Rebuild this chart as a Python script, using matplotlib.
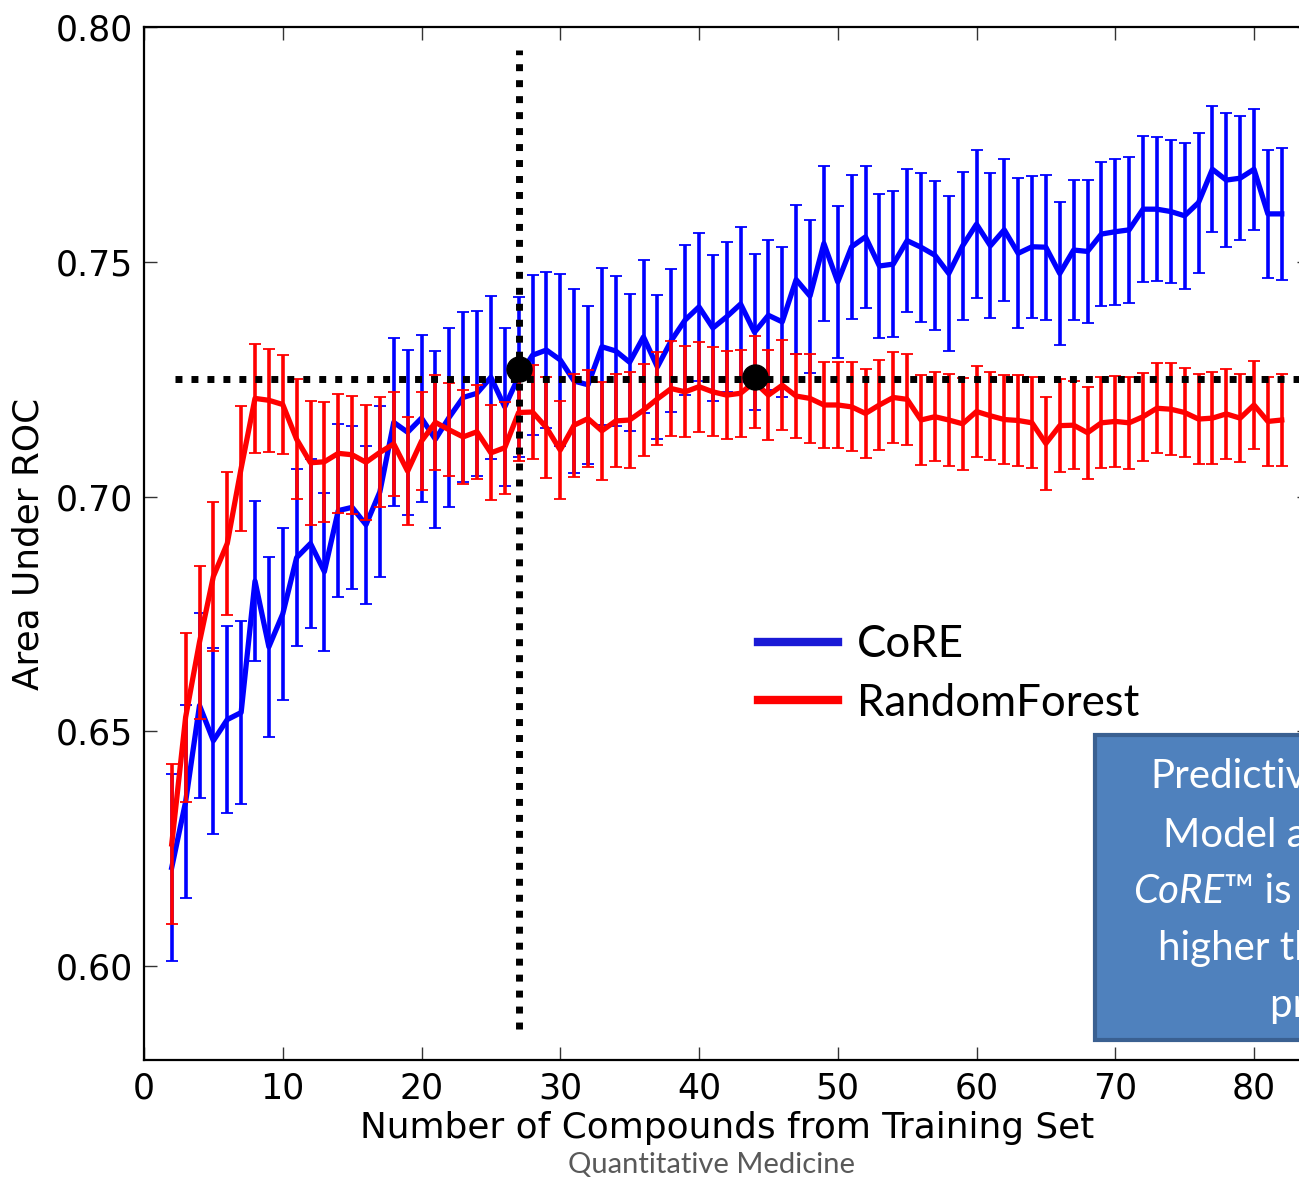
import matplotlib
matplotlib.use("Agg")
import matplotlib.pyplot as plt
from matplotlib.lines import Line2D
from matplotlib.patches import Rectangle

W, H = 1299, 1179

n_compounds = list(range(2, 83))

core_mean = [0.621, 0.635, 0.6555, 0.648, 0.6525, 0.654, 0.682, 0.668, 0.675, 0.687,
             0.690, 0.684, 0.697, 0.6977, 0.694, 0.701, 0.7158, 0.7137, 0.7167, 0.7122,
             0.7169, 0.7211, 0.722, 0.7254, 0.7191, 0.7255, 0.7301, 0.7312, 0.7291, 0.7246,
             0.7238, 0.7319, 0.7310, 0.7286, 0.7340, 0.7276, 0.7332, 0.7376, 0.7404, 0.7359,
             0.7383, 0.7410, 0.7350, 0.7386, 0.7372, 0.7462, 0.7427, 0.7539, 0.7457, 0.7532,
             0.7553, 0.7491, 0.7495, 0.7545, 0.7531, 0.7514, 0.7475, 0.7534, 0.7580, 0.7534,
             0.7568, 0.7518, 0.7532, 0.7531, 0.7475, 0.7525, 0.7522, 0.7559, 0.7564, 0.7568,
             0.7612, 0.7612, 0.7607, 0.7598, 0.7626, 0.7697, 0.7674, 0.7678, 0.7697, 0.7602,
             0.7602]
core_err = [0.020, 0.0206, 0.0197, 0.0198, 0.0199, 0.0195, 0.0171, 0.0192, 0.0183, 0.0189,
            0.018, 0.0168, 0.0184, 0.0174, 0.0168, 0.0182, 0.0179, 0.0176, 0.0178, 0.0188,
            0.0191, 0.0181, 0.0176, 0.0174, 0.0169, 0.017, 0.017, 0.0167, 0.0183, 0.0196,
            0.0168, 0.0167, 0.016, 0.0146, 0.0163, 0.0153, 0.0152, 0.016, 0.0158, 0.0155,
            0.016, 0.0165, 0.0166, 0.016, 0.016, 0.0159, 0.0163, 0.0165, 0.0162, 0.0153,
            0.0151, 0.0154, 0.0156, 0.0152, 0.0159, 0.0159, 0.0166, 0.0158, 0.0158, 0.0154,
            0.0151, 0.016, 0.0151, 0.0154, 0.0153, 0.0149, 0.0153, 0.0154, 0.0155, 0.0155,
            0.0156, 0.0153, 0.0152, 0.0155, 0.0149, 0.0134, 0.0142, 0.0132, 0.0129, 0.0137,
            0.014]

rf_mean = [0.626, 0.653, 0.669, 0.683, 0.690, 0.706, 0.7209, 0.7205, 0.7196, 0.7122,
           0.7072, 0.7074, 0.7092, 0.7089, 0.7073, 0.7094, 0.7112, 0.7054, 0.7118, 0.7158,
           0.7142, 0.7127, 0.7138, 0.7093, 0.7104, 0.7179, 0.7180, 0.7147, 0.7099, 0.7152,
           0.7166, 0.7140, 0.7161, 0.7163, 0.7184, 0.7208, 0.7230, 0.7223, 0.7234, 0.7223,
           0.7216, 0.7220, 0.7244, 0.7216, 0.7237, 0.7214, 0.7209, 0.7195, 0.7195, 0.7191,
           0.7177, 0.7195, 0.7211, 0.7207, 0.7163, 0.7170, 0.7163, 0.7155, 0.7181, 0.7172,
           0.7164, 0.7162, 0.7157, 0.7113, 0.7151, 0.7152, 0.7136, 0.7157, 0.7160, 0.7157,
           0.7170, 0.7188, 0.7186, 0.7179, 0.7165, 0.7167, 0.7176, 0.7167, 0.7195, 0.7160,
           0.7163]
rf_err = [0.017, 0.018, 0.0163, 0.0158, 0.0152, 0.0133, 0.0116, 0.011, 0.0105, 0.0128,
          0.0132, 0.0128, 0.0127, 0.0126, 0.0123, 0.0117, 0.0111, 0.0115, 0.0105, 0.0101,
          0.0099, 0.010, 0.010, 0.0101, 0.0098, 0.0103, 0.010, 0.0107, 0.0105, 0.011,
          0.0103, 0.0105, 0.0099, 0.0102, 0.0098, 0.0099, 0.0102, 0.0097, 0.0096, 0.0095,
          0.0093, 0.0093, 0.0097, 0.0096, 0.0096, 0.009, 0.0094, 0.0092, 0.0092, 0.0095,
          0.0094, 0.0096, 0.0097, 0.0097, 0.0096, 0.0095, 0.0097, 0.0098, 0.0097, 0.0094,
          0.0094, 0.0096, 0.0097, 0.010, 0.0099, 0.0094, 0.0098, 0.0097, 0.0097, 0.0098,
          0.0094, 0.0096, 0.0098, 0.0095, 0.0095, 0.0098, 0.0096, 0.0093, 0.0094, 0.0094,
          0.0097]

ref_x = 27
ref_y = 0.725
marker_x = [27, 44]
marker_y = [0.7272, 0.7254]

x_ticks = [0, 10, 20, 30, 40, 50, 60, 70, 80]
y_ticks = [0.60, 0.65, 0.70, 0.75, 0.80]
y_ticklabels = ["0.60", "0.65", "0.70", "0.75", "0.80"]

box_lines = ["Predictive", "Model accuracy", "CoRE", "higher than", "prior art"]

BLUE = "#0000ff"
RED = "#ff0000"

fig = plt.figure(figsize=(W / 100, H / 100), dpi=100)
ax = fig.add_axes([144 / W, (H - 1060) / H, 1165.5 / W, 1033 / H])

ax.errorbar(n_compounds, core_mean, yerr=core_err, color=BLUE, lw=3.8,
            elinewidth=2.6, capsize=4.5, capthick=1.3, zorder=2)
ax.errorbar(n_compounds, rf_mean, yerr=rf_err, color=RED, lw=3.8,
            elinewidth=2.6, capsize=4.5, capthick=1.3, zorder=3)

ax.plot([ref_x, ref_x], [0.5865, 0.795], color="black", lw=5, dashes=(1, 1.3),
        dash_capstyle="butt", zorder=5)
ax.plot([2.2, 84], [ref_y, ref_y], color="black", lw=5, dashes=(1, 1.3),
        dash_capstyle="butt", zorder=5)
ax.plot(marker_x, marker_y, "o", color="black", ms=18, zorder=6)

ax.set_xlim(0, 84)
ax.set_ylim(0.58, 0.80)
ax.set_xticks(x_ticks)
ax.set_yticks(y_ticks)
ax.set_yticklabels(y_ticklabels)
ax.tick_params(direction="in", length=9.5, width=1, top=True, right=True,
               labelsize=25, pad=8, colors="#333333", labelcolor="black")
for s in ax.spines.values():
    s.set_linewidth(1.6)

ax.set_xlabel("Number of Compounds from Training Set", fontsize=25.8)
ax.set_ylabel("Area Under ROC", fontsize=25.8)
ax.xaxis.set_label_coords(0.5, -(1111 - 1060) / 1033)
ax.yaxis.set_label_coords((46 - 144) / 1165.5, 0.5)

handles = [Line2D([], [], color="#1a1ad6", lw=6),
           Line2D([], [], color=RED, lw=6)]
fig.legend(handles, ["CoRE", "RandomForest"], loc="upper left",
           bbox_to_anchor=(758 / W, (H - 624) / H), frameon=False,
           prop={"family": "Lato", "size": 31.5}, borderpad=0, borderaxespad=0,
           handlelength=1.83, handletextpad=0.43, labelspacing=0.40)

fig.add_artist(Rectangle((1095 / W, (H - 1040) / H), 400 / W, 305 / H,
                         transform=fig.transFigure, facecolor="#4F81BD",
                         edgecolor="#3A6091", lw=3, zorder=10))

box_x = [1150, 1163, 1133, 1158, 1270]
box_base = [788, 847, 903, 960, 1017]
for i, (txt, bx, by) in enumerate(zip(box_lines, box_x, box_base)):
    t = fig.text(bx / W, (H - by) / H, txt, color="white", family="Lato",
                 fontsize=29, va="baseline", ha="left", zorder=11,
                 style="italic" if i == 2 else "normal")
    if i == 2:
        fig.canvas.draw()
        bb = t.get_window_extent()
        fig.text(bb.x1 / W, (H - by) / H, "\u2122 is significantly", color="white",
                 family="Lato", fontsize=29, va="baseline", ha="left", zorder=11)

fig.text(712 / W, (H - 1165) / H, "Quantitative Medicine", color="#595959",
         family="Lato", fontsize=21, ha="center", va="center")

fig.savefig("out.png", dpi=100)
